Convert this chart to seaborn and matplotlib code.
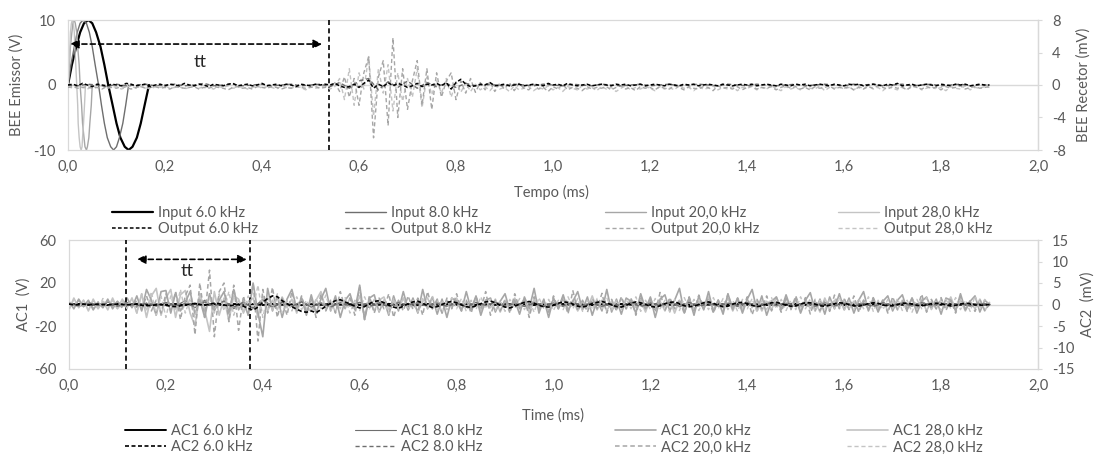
import numpy as np
import matplotlib
matplotlib.use("Agg")
import matplotlib.pyplot as plt
import seaborn as sns
from matplotlib.ticker import FixedLocator, FuncFormatter

# ---------------------------------------------------------------- data
# Sampling grids (ms)
FINE_STEP, FINE_N = 0.01, 191      # 0.00 .. 1.90 ms
COARSE_STEP, COARSE_N = 0.02, 96   # 0.00 .. 1.90 ms

# One-cycle sine input pulses (V)
IN_V = [0, 3.1, 5.9, 8.1, 9.5, 10, 9.5, 8.1, 5.9, 3.1, 0,
        -3.1, -5.9, -8.1, -9.5, -10, -9.5, -8.1, -5.9, -3.1, 0]
IN6_T = [0.000, 0.008, 0.017, 0.025, 0.033, 0.042, 0.050, 0.058, 0.067, 0.075, 0.083,
         0.092, 0.100, 0.108, 0.117, 0.125, 0.133, 0.142, 0.150, 0.158, 0.167]
IN8_T = [0.000, 0.006, 0.013, 0.019, 0.025, 0.031, 0.038, 0.044, 0.050, 0.056, 0.063,
         0.069, 0.075, 0.081, 0.088, 0.094, 0.100, 0.106, 0.113, 0.119, 0.125]
IN20_T = [0.000, 0.003, 0.005, 0.008, 0.010, 0.013, 0.015, 0.018, 0.020, 0.023, 0.025,
          0.028, 0.030, 0.033, 0.035, 0.038, 0.040, 0.043, 0.045, 0.048, 0.050]
IN28_T = [0.000, 0.002, 0.004, 0.005, 0.007, 0.009, 0.011, 0.013, 0.014, 0.016, 0.018,
          0.020, 0.021, 0.023, 0.025, 0.027, 0.029, 0.030, 0.032, 0.034, 0.036]

# BEE receiver outputs (mV)
OUT6 = [0.0, 0.1, -0.1, 0.2, 0.0, -0.2, 0.1, 0.0, -0.1, 0.1,
        0.0, -0.1, 0.2, 0.1, -0.1, 0.0, 0.1, -0.2, 0.0, 0.1,
        -0.1, 0.1, 0.0, -0.1, 0.2, 0.0, -0.1, 0.1, 0.0, -0.2,
        0.1, 0.0, -0.1, 0.1, 0.2, -0.1, 0.0, 0.1, -0.1, 0.0,
        0.2, -0.1, 0.0, 0.1, -0.1, 0.1, 0.0, -0.2, 0.1, 0.0,
        -0.1, 0.1, 0.0, 0.1, 0.0, 0.2, -0.1, -0.3, -0.2, 0.1,
        -0.3, 0.2, 0.6, -0.4, 0.1, -0.2, 0.3, -0.1, 0.2, 0.0,
        -0.3, -0.1, 0.2, -0.2, 0.1, 0.0, 0.2, -0.1, 0.3, -0.5,
        0.3, 0.7, 0.1, -0.2, -0.1, 0.1, 0.0, 0.3, -0.1, 0.0,
        0.1, -0.1, 0.0, 0.1, -0.1, 0.0, 0.1, 0.0, -0.1, 0.2,
        0.0, 0.1, -0.1, 0.2, 0.0, -0.1, 0.0, 0.1, -0.1, 0.0,
        0.1, 0.0, -0.1, 0.1, 0.0, 0.1, -0.1, 0.0, 0.1, -0.1,
        0.0, 0.1, 0.0, -0.1, 0.1, 0.0, -0.1, 0.1, 0.0, 0.1,
        -0.1, 0.0, 0.1, 0.0, -0.1, 0.1, 0.0, -0.1, 0.0, 0.1,
        0.0, 0.1, -0.1, 0.0, 0.1, 0.0, -0.1, 0.1, 0.0, -0.1,
        0.1, 0.0, 0.1, -0.1, 0.0, 0.1, 0.0, -0.1, 0.1, 0.0,
        -0.1, 0.1, 0.0, 0.1, -0.1, 0.0, 0.1, 0.0, -0.1, 0.1,
        0.0, 0.2, -0.1, 0.0, 0.1, -0.1, 0.0, 0.1, 0.0, -0.1,
        0.1, 0.0, -0.1, 0.1, 0.0, 0.1, -0.1, 0.0, 0.1, 0.0,
        0.0]
OUT8 = [0.0, -0.1, 0.1, 0.0, -0.2, 0.1, -0.1, 0.0, 0.1, -0.1,
        0.0, 0.1, -0.1, 0.0, 0.2, -0.1, 0.0, 0.1, -0.1, 0.0,
        0.1, -0.1, 0.0, 0.1, -0.1, 0.0, 0.1, -0.2, 0.3, -0.4,
        0.5, 0.8, -0.6, 0.4, -0.3, 0.5, -0.4, 0.3, -0.2, 0.2,
        -0.3, 0.2, -0.1, 0.1, 0.0, -0.1, 0.1, 0.0, -0.1, 0.1,
        0.0, -0.1, 0.1, 0.0, -0.1, 0.1, 0.0, -0.1, 0.0, 0.1,
        -0.1, 0.0, 0.1, -0.1, 0.0, 0.1, 0.0, -0.1, 0.1, 0.0,
        -0.1, 0.1, 0.0, -0.1, 0.0, 0.1, -0.1, 0.0, 0.1, 0.0,
        -0.1, 0.1, 0.0, 0.1, -0.1, 0.0, 0.1, -0.1, 0.0, 0.1,
        -0.1, 0.0, 0.1, -0.1, 0.0, 0.0]
OUT20 = [-0.3, -0.2, -0.4, -0.3, -0.2, -0.4, -0.3, -0.5, -0.2, -0.3,
         -0.4, -0.2, -0.3, -0.5, -0.3, -0.2, -0.4, -0.3, -0.2, -0.4,
         -0.3, -0.5, -0.2, -0.3, -0.4, -0.3, -0.2, -0.5, -0.3, -0.4,
         -0.2, -0.3, -0.4, -0.6, -0.3, -0.2, -0.4, -0.3, -0.5, -0.2,
         -0.3, -0.4, -0.2, -0.3, -0.5, -0.3, -0.4, -0.2, -0.3, -0.4,
         -0.3, -0.2, -0.4, -0.3, -0.2, 0.3, -0.8, 1.0, -1.5, 0.8,
         -2.5, 1.5, 3.5, -6.5, 1.0, 3.0, -5.0, 5.8, -4.0, 2.0,
         -3.0, 0.5, 3.0, -2.5, 2.0, -3.0, 1.5, -1.5, 0.5, 1.5,
         -1.8, 0.5, -1.0, 0.8, -0.9, 0.3, -0.6, 0.4, -0.8, 0.2,
         -0.5, 0.3, -0.7, 0.2, -0.4, -0.6, 0.1, -0.5, -0.3, -0.8,
         -0.2, -0.5, 0.1, -0.6, -0.3, -0.4, -0.7, -0.2, -0.5, -0.3,
         -0.4, -0.2, -0.6, -0.3, -0.1, -0.5, -0.3, -0.7, -0.2, -0.4,
         -0.3, -0.6, -0.2, -0.4, -0.5, -0.1, -0.3, -0.6, -0.2, -0.4,
         -0.5, -0.2, -0.3, -0.7, -0.1, -0.4, -0.3, -0.5, -0.2, -0.6,
         -0.3, -0.1, -0.5, -0.3, -0.4, -0.2, -0.6, -0.3, -0.1, -0.4,
         -0.2, -0.5, -0.3, -0.6, -0.2, -0.4, -0.3, -0.1, -0.5, -0.3,
         -0.4, -0.2, -0.6, -0.3, -0.5, -0.2, -0.4, -0.1, -0.3, -0.5,
         -0.2, -0.4, -0.3, -0.6, -0.1, -0.3, -0.5, -0.2, -0.4, -0.3,
         -0.6, -0.2, -0.4, -0.3, -0.1, -0.5, -0.3, -0.2, -0.4, -0.3,
         -0.2]
OUT28 = [-0.2, -0.4, -0.1, -0.3, -0.5, -0.2, -0.3, -0.1, -0.4, -0.3,
         -0.2, -0.5, -0.3, -0.1, -0.4, -0.2, -0.3, -0.5, -0.2, -0.3,
         -0.1, -0.4, -0.3, -0.2, -0.5, -0.3, -0.1, -0.4, -0.2, -0.3,
         -0.5, -0.2, -0.3, -0.1, -0.4, -0.3, -0.2, -0.5, -0.3, -0.1,
         -0.4, -0.2, -0.3, -0.5, -0.1, -0.3, -0.4, -0.2, -0.3, -0.6,
         -0.2, -0.4, -0.3, -0.1, -0.5, -0.2, 0.8, -1.8, 2.0, -2.5,
         1.5, -0.5, 3.5, -3.8, 2.0, -1.0, 2.5, -3.2, 1.5, -2.0,
         0.8, -1.5, 2.0, -2.8, 1.0, -1.2, 0.5, -1.0, 0.8, -1.5,
         0.4, -0.9, 0.3, -0.8, 0.1, -0.6, -0.2, -0.7, 0.0, -0.5,
         -0.3, -0.8, -0.1, -0.6, -0.4, -0.2, -0.7, -0.3, -0.5, -0.1,
         -0.6, -0.3, -0.8, -0.2, -0.4, -0.6, -0.1, -0.5, -0.3, -0.7,
         -0.2, -0.5, -0.3, -0.8, -0.4, -0.1, -0.6, -0.3, -0.5, -0.2,
         -0.4, -0.7, -0.2, -0.5, -0.3, -0.6, -0.1, -0.4, -0.3, -0.7,
         -0.2, -0.5, -0.4, -0.1, -0.6, -0.3, -0.5, -0.2, -0.7, -0.3,
         -0.4, -0.2, -0.6, -0.3, -0.5, -0.1, -0.4, -0.7, -0.2, -0.5,
         -0.3, -0.6, -0.2, -0.4, -0.5, -0.1, -0.7, -0.3, -0.4, -0.2,
         -0.5, -0.3, -0.6, -0.2, -0.4, -0.1, -0.5, -0.3, -0.7, -0.2,
         -0.4, -0.6, -0.2, -0.5, -0.3, -0.1, -0.6, -0.4, -0.2, -0.5,
         -0.3, -0.7, -0.2, -0.4, -0.5, -0.1, -0.6, -0.3, -0.4, -0.2,
         -0.3]

# Accelerometer AC1 (V)
AC1_6 = [0.0, 0.5, -0.4, 0.3, -0.6, 0.4, -0.2, 0.6, -0.5, 0.2,
         -0.3, 0.5, -0.6, 0.8, -0.4, 0.3, -0.7, 0.5, -0.2, 0.4,
         -0.5, 0.6, -0.3, 0.2, -0.6, 0.4, -0.4, 0.7, -0.2, 0.3,
         -0.5, 0.4, -0.3, 0.6, -0.4, 0.2, -0.6, 0.5, -0.3, 0.4,
         -0.2, 0.5, -0.5, 0.3, -0.4, 0.6, -0.2, 0.4, -0.5, 0.3,
         -0.3, 0.5, -0.4, 0.2, -0.6, 0.4, -0.3, 0.5, -0.2, 0.3,
         -0.4, 0.6, -0.3, 0.2, -0.5, 0.4, -0.2, 0.5, -0.4, 0.3,
         -0.3, 0.4, -0.5, 0.2, -0.3, 0.6, -0.4, 0.3, -0.2, 0.4,
         -0.5, 0.3, -0.2, 0.5, -0.4, 0.2, -0.3, 0.4, -0.5, 0.3,
         -0.2, 0.4, -0.3, 0.2, -0.1, 0.0]
AC1_8 = [1.5, -2.0, 1.0, -1.5, 2.2, -1.0, 1.8, -2.5, 1.2, -1.6,
         2.0, -1.2, 3.5, -3.0, 4.0, -2.5, 3.0, -4.0, 2.5, -3.5,
         5.0, -2.0, 2.8, -1.8, 3.0, -2.6, 1.6, -2.2, 2.4, -1.4,
         1.8, -2.8, 2.0, -1.5, 2.6, -2.0, 1.2, -1.8, 2.2, -1.6,
         1.4, -2.4, 2.0, -1.2, 1.8, -2.2, 1.5, -1.8, 2.5, -1.4,
         1.6, -2.0, 1.2, -1.6, 2.2, -1.8, 1.4, -2.4, 1.8, -1.2,
         2.0, -1.6, 1.4, -2.2, 1.6, -1.4, 2.4, -1.8, 1.2, -2.0,
         1.8, -1.4, 2.2, -1.6, 1.4, -2.0, 1.6, -1.2, 2.0, -1.8,
         1.2, -1.6, 2.0, -1.4, 1.8, -2.2, 1.4, -1.6, 2.2, -1.2,
         1.6, -1.8, 1.2, -1.4, 1.0, 0.0]
AC1_20 = [3, -4, 5, -2, 4, -5, 2, -3, 5, -4,
          3, -2, 6, -3, 8, -6, 14, 4, -10, 12,
          13, -8, 11, -6, 2, 12, -9, 5, -12, 10,
          -6, 4, 12, -8, 14, -5, 3, -10, 20, -8,
          -30, 15, -6, 8, -12, 5, 14, -4, 6, -10,
          9, -8, 5, 15, -6, 8, -12, 4, 10, -5,
          18, -14, 6, 9, -7, 4, -10, 8, -6, 12,
          -5, 6, -8, 14, -4, 7, -9, 5, -12, 6,
          3, -6, 12, -5, 8, -10, 4, 6, -7, 3,
          10, -6, 4, -9, 7, -4, 15, -8, 5, -12,
          6, -4, 9, -6, 3, 12, -5, 7, -10, 4,
          -6, 14, -7, 5, -9, 6, 3, -8, 10, -4,
          7, -12, 5, 9, -6, 4, 15, -8, 6, -10,
          8, -5, 12, -7, 4, -9, 10, -4, 6, -8,
          5, 14, -6, 8, -10, 3, 7, -5, 9, -4,
          6, -8, 4, 11, -6, 5, -9, 7, -4, 10,
          -5, 6, -8, 4, 12, -6, 5, -7, 3, 8,
          -6, 4, 9, -5, 6, -8, 3, 7, -4, 5,
          -9, 6, 4, -6, 10, -5, 3, 8, -7, 4,
          0]
AC1_28 = [-5, 6, -3, 4, -6, 5, -4, 3, -5, 6,
          -4, 5, -3, 6, -8, 10, -12, 8, 15, -10,
          6, 14, -12, 9, 13, -8, -20, 10, -5, -25,
          12, -10, 6, -15, 8, 5, -8, 3, 6, -12,
          8, -6, 4, -5, 7, -3, 5, -8, 6, -4,
          -6, 4, 12, -5, 3, -7, 5, -4, 6, -3,
          8, -10, 5, -6, 4, 7, -5, 3, -4, 6,
          -5, 4, -7, 3, 6, -4, 5, -8, 4, -3,
          6, -5, 3, -4, 7, -6, 4, -3, 5, -7,
          4, -5, 6, -3, 4, -8, 5, -4, 3, -6,
          5, -3, 7, -5, 4, -6, 3, -4, 8, -5,
          4, -6, 3, -5, 6, -4, 5, -3, 4, -7,
          6, -4, 3, -6, 5, -8, 4, -3, 6, -5,
          3, -4, 7, -5, 4, -3, 6, -6, 4, -5,
          5, -3, 4, -6, 3, -5, 7, -4, 5, -3,
          4, -6, 5, -4, 3, -7, 6, -5, 4, -3,
          5, -4, 3, -6, 4, -5, 6, -3, 4, -6,
          3, -5, 4, -3, 6, -4, 5, -6, 3, -4,
          5, -3, 7, -5, 4, -6, 3, -4, 5, -6,
          2]

# Accelerometer AC2 (mV)
AC2_6 = [0.1, -0.1, 0.0, 0.1, -0.1, 0.0, 0.1, 0.0, -0.1, 0.0,
         0.1, 0.0, -0.1, 0.0, 0.1, -0.2, -0.3, -0.2, -0.1, 0.0,
         -0.2, -0.4, -0.5, -0.3, -0.1, 0.1, 0.2, 0.0, -0.2, 0.1,
         0.3, 0.2, -0.1, -0.3, -0.2, 0.0, -0.4, -0.9, -1.3, -0.6,
         0.5, 1.4, 2.0, 1.8, 0.9, 0.2, -0.5, -1.1, -1.6, -1.8,
         -1.5, -1.9, -1.2, -0.4, 0.3, 0.9, 1.1, 0.6, 0.1, -0.4,
         -0.8, -0.5, 0.2, 0.7, 0.9, 0.4, -0.2, -0.6, -0.9, -0.4,
         0.2, 0.6, 0.8, 0.3, -0.3, -0.7, -0.5, 0.0, 0.5, 0.7,
         0.4, -0.1, -0.5, -0.7, -0.3, 0.2, 0.6, 0.8, 0.4, -0.2,
         -0.6, -0.8, -0.4, 0.1, 0.5, 0.7, 0.3, -0.2, -0.5, -0.6,
         -0.2, 0.3, 0.6, 0.5, 0.1, -0.4, -0.6, -0.3, 0.2, 0.5,
         0.7, 0.4, -0.1, -0.5, -0.6, -0.2, 0.3, 0.6, 0.4, 0.0,
         -0.4, -0.6, -0.3, 0.2, 0.5, 0.6, 0.2, -0.3, -0.5, -0.4,
         0.0, 0.4, 0.6, 0.3, -0.2, -0.5, -0.4, 0.1, 0.4, 0.5,
         0.2, -0.2, -0.5, -0.3, 0.1, 0.4, 0.5, 0.2, -0.2, -0.4,
         -0.3, 0.1, 0.4, 0.4, 0.1, -0.3, -0.4, -0.2, 0.2, 0.4,
         0.3, 0.0, -0.3, -0.4, -0.1, 0.2, 0.4, 0.3, -0.1, -0.3,
         -0.3, 0.0, 0.3, 0.3, 0.1, -0.2, -0.3, -0.1, 0.2, 0.3,
         0.2, -0.1, -0.3, -0.2, 0.1, 0.3, 0.2, -0.1, -0.2, -0.1,
         0.0]
AC2_8 = [0.2, -0.3, 0.4, -0.2, 0.3, -0.4, 0.2, -0.3, 0.3, -0.2,
         0.4, -0.3, 0.2, -0.5, 0.6, -0.4, 0.8, -0.6, 0.5, -0.8,
         1.0, -0.7, 0.5, -0.4, 0.6, -0.5, 0.3, -0.6, 0.4, -0.3,
         0.5, -0.4, 0.3, -0.5, 0.4, -0.2, 0.6, -0.3, 0.2, -0.4,
         0.3, -0.5, 0.4, -0.2, 0.5, -0.3, 0.2, -0.4, 0.3, -0.5,
         0.4, -0.3, 0.5, -0.2, 0.3, -0.4, 0.2, -0.3, 0.4, -0.5,
         0.3, -0.2, 0.4, -0.3, 0.5, -0.4, 0.2, -0.3, 0.3, -0.2,
         0.4, -0.5, 0.3, -0.2, 0.4, -0.3, 0.5, -0.4, 0.2, -0.3,
         0.3, -0.4, 0.2, -0.5, 0.4, -0.2, 0.3, -0.3, 0.4, -0.2,
         0.3, -0.4, 0.2, -0.3, 0.2, 0.0]
AC2_20 = [0.5, -0.8, 1.0, -0.5, 0.8, -1.0, 0.6, -0.7, 0.9, -0.6,
          0.7, -0.9, 0.5, -0.6, 1.0, -1.2, 2.0, -1.5, 1.0, -2.0,
          2.5, -1.5, 3.0, -3.5, 2.0, 4.5, -7.0, 5.0, -3.0, 8.0,
          -7.5, 3.0, 5.0, -4.0, 4.5, -6.0, 2.0, -2.5, 5.0, -8.5,
          3.5, -2.0, 4.0, -3.0, 1.5, -2.5, 3.0, -1.5, 2.0, -2.0,
          1.5, -3.0, 2.5, -1.5, 1.0, -2.0, 3.0, -1.0, 1.5, -2.5,
          4.0, -3.5, 2.0, -2.0, 1.5, -1.0, 2.5, -3.0, 1.0, -1.5,
          2.0, -1.2, 1.5, -2.5, 3.0, -1.0, 1.2, -2.0, 1.5, -1.0,
          2.5, -1.5, 1.0, -2.0, 1.8, -1.2, 3.0, -2.5, 1.0, -1.5,
          1.2, -2.0, 2.5, -1.0, 1.5, -3.0, 1.8, -1.2, 1.0, -1.8,
          2.0, -1.0, 1.5, -2.2, 3.2, -1.5, 1.0, -1.8, 1.4, -1.0,
          2.6, -2.0, 1.2, -1.5, 1.8, -1.0, 1.5, -2.5, 2.0, -1.2,
          1.0, -1.8, 2.8, -1.4, 1.6, -1.0, 1.2, -2.2, 1.8, -1.5,
          2.2, -1.0, 1.4, -2.0, 1.0, -1.6, 2.4, -1.2, 1.5, -1.0,
          1.8, -2.4, 1.2, -1.0, 2.0, -1.5, 1.0, -1.8, 1.4, -1.2,
          2.0, -1.0, 1.6, -2.2, 1.2, -1.4, 1.0, -1.6, 2.2, -1.0,
          1.4, -1.2, 2.0, -1.8, 1.0, -1.0, 1.6, -1.4, 1.2, -2.0,
          1.8, -1.2, 1.0, -1.6, 1.4, -1.0, 2.4, -1.8, 1.2, -1.0,
          1.6, -1.4, 1.0, -2.0, 1.8, -1.2, 1.0, -1.6, 1.2, -1.4,
          0.0]
AC2_28 = [-1.0, 1.2, -0.8, 1.0, -1.3, 0.9, -1.1, 1.4, -0.7, 1.0,
          -1.2, 0.8, -1.0, 1.5, -2.0, 2.5, -1.5, 3.0, -2.5, 2.0,
          -3.0, 2.0, -1.5, 3.5, -2.0, 1.5, -3.0, 2.5, -1.0, 1.5,
          -2.0, 2.5, -1.5, 3.0, -2.5, 1.0, -1.5, 2.0, -1.0, 4.5,
          -3.0, 2.0, -1.5, 2.5, -2.0, 1.0, -1.5, 1.8, -1.2, 1.0,
          -1.8, 1.4, -1.0, 2.2, -1.6, 1.2, -1.0, 1.6, -2.0, 1.0,
          -1.4, 1.8, -1.0, 1.2, -1.6, 1.0, -2.2, 1.4, -1.0, 1.6,
          -1.2, 1.0, -1.8, 1.4, -1.0, 2.0, -1.4, 1.0, -1.2, 1.6,
          -1.0, 1.4, -1.6, 1.0, -1.2, 1.8, -1.0, 1.2, -1.4, 1.0,
          -1.6, 1.2, -1.0, 1.4, -1.2, 1.0, -1.8, 1.6, -1.0, 1.2,
          -1.4, 1.0, -1.2, 1.8, -1.0, 1.4, -1.6, 1.0, -1.2, 1.4,
          -1.0, 1.6, -1.4, 1.0, -1.2, 1.2, -1.0, 1.8, -1.6, 1.0,
          -1.2, 1.4, -1.0, 1.0, -1.8, 1.2, -1.4, 1.6, -1.0, 1.2,
          -1.4, 1.0, -1.2, 1.6, -1.0, 1.4, -1.2, 1.0, -1.6, 1.2,
          -1.0, 1.4, -1.8, 1.0, -1.2, 1.6, -1.0, 1.2, -1.4, 1.0,
          -1.2, 1.8, -1.0, 1.4, -1.6, 1.0, -1.2, 1.2, -1.0, 1.6,
          -1.4, 1.0, -1.2, 1.4, -1.0, 1.8, -1.6, 1.0, -1.2, 1.2,
          -1.0, 1.4, -1.4, 1.0, -1.8, 1.2, -1.0, 1.6, -1.2, 1.0,
          -1.4, 1.2, -1.0, 1.6, -1.2, 1.0, -1.6, 2.0, -1.0, 1.2,
          0.0]

# travel-time markers (ms)
TT_TOP = (0.004, 0.538)      # arrow start, dashed marker of arrival
TT_BOT = (0.118, 0.373)      # dashed markers of the bottom chart
TOP_LABELS = ["Input 6.0 kHz", "Output 6.0 kHz", "Input 8.0 kHz", "Output 8.0 kHz",
              "Input 20,0 kHz", "Output 20,0 kHz", "Input 28,0 kHz", "Output 28,0 kHz"]
BOT_LABELS = ["AC1 6.0 kHz", "AC2 6.0 kHz", "AC1 8.0 kHz", "AC2 8.0 kHz",
              "AC1 20,0 kHz", "AC2 20,0 kHz", "AC1 28,0 kHz", "AC2 28,0 kHz"]

# ---------------------------------------------------------------- style
sns.set_theme(style="white")
plt.rcParams['font.family'] = ['Lato', 'DejaVu Sans']
plt.rcParams['axes.unicode_minus'] = False

TXT = '#595959'
BORDER = '#d9d9d9'
C6, C8, C20, C28 = '#000000', '#6e6e6e', '#a6a6a6', '#c4c4c4'
DASH = (0, (3, 2))
DASH_K = (0, (2.4, 1.5))
FS = 10.5

W, H = 1099, 455
fig = plt.figure(figsize=(W / 100, H / 100), dpi=100)
fig.patch.set_facecolor('white')

t_fine = np.round(np.arange(FINE_N) * FINE_STEP, 3)
t_coarse = np.round(np.arange(COARSE_N) * COARSE_STEP, 3)


def draw(ax, t, v, color, lw, ls, label):
    sns.lineplot(x=np.asarray(t, float), y=np.asarray(v, float), ax=ax, color=color,
                 linewidth=lw, linestyle=ls, estimator=None, sort=False,
                 label=label, legend=False)
    return ax.lines[-1]


def style_axes(ax, axr, ylim, yticks, rlim, rticks):
    ax.set_xlim(0, 2)
    ax.set_ylim(*ylim)
    axr.set_ylim(*rlim)
    ax.xaxis.set_major_locator(FixedLocator(np.round(np.arange(0, 2.01, 0.2), 1)))
    ax.xaxis.set_major_formatter(FuncFormatter(lambda x, p: f"{x:.1f}".replace('.', ',')))
    ax.yaxis.set_major_locator(FixedLocator(yticks))
    ax.yaxis.set_major_formatter(FuncFormatter(lambda x, p: f"{x:g}"))
    axr.yaxis.set_major_locator(FixedLocator(rticks))
    axr.yaxis.set_major_formatter(FuncFormatter(lambda x, p: f"{x:g}"))
    ax.tick_params(axis='x', length=0, pad=7, labelsize=FS, labelcolor=TXT)
    ax.tick_params(axis='y', length=0, pad=9, labelsize=FS, labelcolor=TXT)
    axr.tick_params(axis='y', length=3, width=0.8, color=BORDER, direction='out',
                    pad=7, labelsize=FS, labelcolor=TXT)
    for sp in ax.spines.values():
        sp.set_color(BORDER)
        sp.set_linewidth(0.9)
    for name, sp in axr.spines.items():
        sp.set_visible(name == 'right')
        sp.set_color(BORDER)
        sp.set_linewidth(0.9)
    ax.axhline(0, color=BORDER, lw=1.0, zorder=0.5)
    ax.set_xlabel('')
    ax.set_ylabel('')
    axr.set_ylabel('')
    ax.grid(False)
    axr.grid(False)


# ---------------------------------------------------------------- top chart
ax1 = fig.add_axes([68 / W, 1 - 150 / H, 970 / W, 130 / H])
ax1r = ax1.twinx()
h_in6 = draw(ax1, IN6_T, IN_V, C6, 1.6, '-', TOP_LABELS[0])
h_in8 = draw(ax1, IN8_T, IN_V, C8, 1.0, '-', TOP_LABELS[2])
h_in20 = draw(ax1, IN20_T, IN_V, C20, 1.0, '-', TOP_LABELS[4])
h_in28 = draw(ax1, IN28_T, IN_V, C28, 1.0, '-', TOP_LABELS[6])
h_o28 = draw(ax1r, t_fine, OUT28, C28, 1.0, DASH, TOP_LABELS[7])
h_o20 = draw(ax1r, t_fine, OUT20, C20, 1.0, DASH, TOP_LABELS[5])
h_o8 = draw(ax1r, t_coarse, OUT8, C8, 1.0, DASH, TOP_LABELS[3])
h_o6 = draw(ax1r, t_fine, OUT6, C6, 1.1, DASH_K, TOP_LABELS[1])
style_axes(ax1, ax1r, (-10, 10), [-10, 0, 10], (-8, 8), [-8, -4, 0, 4, 8])

ax1.axvline(TT_TOP[1], color='black', lw=1.2, ls=(0, (3, 2)), zorder=3)
ax1.annotate('', xy=(TT_TOP[0], 6.3), xytext=(TT_TOP[1] - 0.014, 6.3),
             arrowprops=dict(arrowstyle='<|-|>', linestyle=(0, (3, 2)), color='black',
                             lw=1.2, mutation_scale=13, shrinkA=0, shrinkB=0))
ax1.text(0.272, 3.5, 'tt', ha='center', va='center', fontsize=13, color='#262626')
ax1.text(-0.053, 0.5, 'BEE Emissor (V)', rotation=90, ha='center', va='center',
         transform=ax1.transAxes, fontsize=FS, color=TXT)
ax1.text(1.047, 0.5, 'BEE Recetor (mV)', rotation=90, ha='center', va='center',
         transform=ax1.transAxes, fontsize=FS, color=TXT)
ax1.text(0.498, -0.325, 'Tempo (ms)', ha='center', va='center',
         transform=ax1.transAxes, fontsize=FS, color=TXT)

# ---------------------------------------------------------------- bottom chart
ax2 = fig.add_axes([69 / W, 1 - 369 / H, 969 / W, 129 / H])
ax2r = ax2.twinx()
g_a6 = draw(ax2, t_coarse, AC1_6, C6, 1.4, '-', BOT_LABELS[0])
g_a8 = draw(ax2, t_coarse, AC1_8, C8, 0.8, '-', BOT_LABELS[2])
g_a28 = draw(ax2, t_fine, AC1_28, C28, 1.2, '-', BOT_LABELS[6])
g_a20 = draw(ax2, t_fine, AC1_20, C20, 1.2, '-', BOT_LABELS[4])
g_b28 = draw(ax2r, t_fine, AC2_28, C28, 1.0, DASH, BOT_LABELS[7])
g_b20 = draw(ax2r, t_fine, AC2_20, C20, 1.1, DASH, BOT_LABELS[5])
g_b8 = draw(ax2r, t_coarse, AC2_8, C8, 1.0, DASH, BOT_LABELS[3])
g_b6 = draw(ax2r, t_fine, AC2_6, C6, 1.2, DASH_K, BOT_LABELS[1])
style_axes(ax2, ax2r, (-60, 60), [-60, -20, 20, 60], (-15, 15),
           [-15, -10, -5, 0, 5, 10, 15])

for tv in TT_BOT:
    ax2.axvline(tv, color='black', lw=1.2, ls=(0, (3, 2)), zorder=3)
ax2.annotate('', xy=(TT_BOT[0] + 0.022, 42), xytext=(TT_BOT[1] - 0.006, 42),
             arrowprops=dict(arrowstyle='<|-|>', linestyle=(0, (3, 2)), color='black',
                             lw=1.2, mutation_scale=13, shrinkA=0, shrinkB=0))
ax2.text(0.243, 31, 'tt', ha='center', va='center', fontsize=13, color='#262626')
ax2.text(-0.047, 0.5, 'AC1  (V)', rotation=90, ha='center', va='center',
         transform=ax2.transAxes, fontsize=FS, color=TXT)
ax2.text(1.051, 0.5, 'AC2  (mV)', rotation=90, ha='center', va='center',
         transform=ax2.transAxes, fontsize=FS, color=TXT)
ax2.text(0.5, -0.36, 'Time (ms)', ha='center', va='center',
         transform=ax2.transAxes, fontsize=FS, color=TXT)

# ---------------------------------------------------------------- legends
def column_legend(handles, labels, x_px, y_px):
    leg = fig.legend(handles, labels, loc='upper left',
                     bbox_to_anchor=(x_px / W, 1 - y_px / H), frameon=False,
                     borderpad=0, borderaxespad=0, handlelength=2.8,
                     handletextpad=0.35, labelspacing=0.17, fontsize=FS,
                     labelcolor=TXT)
    return leg

top_cols = [(h_in6, h_o6), (h_in8, h_o8), (h_in20, h_o20), (h_in28, h_o28)]
top_x = [112, 345, 605, 838]
for i, (hs, x) in enumerate(zip(top_cols, top_x)):
    column_legend(list(hs), TOP_LABELS[2 * i:2 * i + 2], x, 206)

bot_cols = [(g_a6, g_b6), (g_a8, g_b8), (g_a20, g_b20), (g_a28, g_b28)]
bot_x = [125, 355, 615, 847]
for i, (hs, x) in enumerate(zip(bot_cols, bot_x)):
    column_legend(list(hs), BOT_LABELS[2 * i:2 * i + 2], x, 424)

fig.savefig('out.png', dpi=100, facecolor='white')
